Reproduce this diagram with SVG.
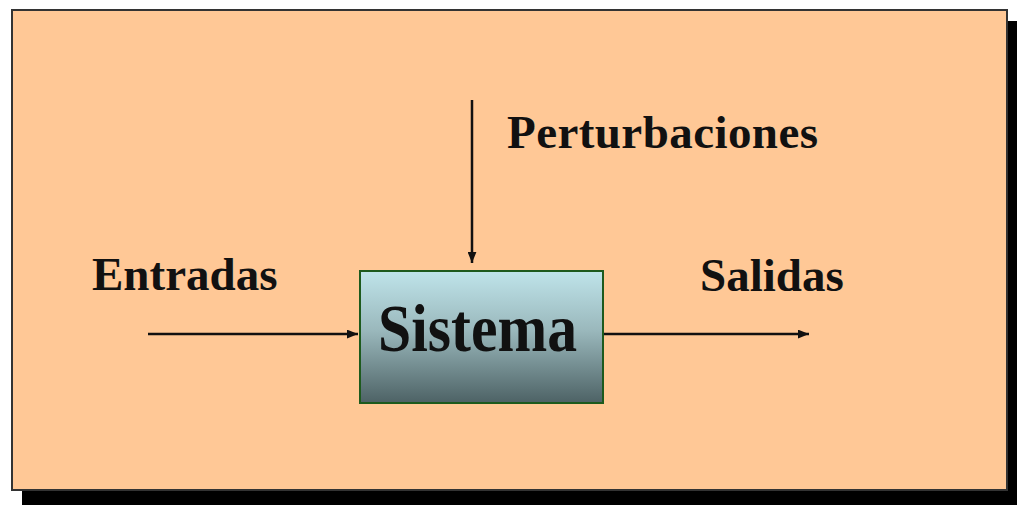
<svg xmlns="http://www.w3.org/2000/svg" width="1017" height="505" viewBox="0 0 1017 505">
<style>
.lbl{font-family:"Liberation Serif","Times New Roman",serif;font-weight:bold;font-size:47px;fill:#111}
.wire{stroke:#111;stroke-width:2.5;fill:none}
</style>
<defs>
<linearGradient id="g" x1="0" y1="0" x2="0" y2="1">
<stop offset="0" stop-color="#bfe4ea"/>
<stop offset="0.45" stop-color="#9ab8bc"/>
<stop offset="1" stop-color="#4d6265"/>
</linearGradient>
<marker id="ah" viewBox="0 0 10 8" refX="10" refY="4" markerWidth="11" markerHeight="9" markerUnits="userSpaceOnUse" orient="auto">
<path d="M0,0 L10,4 L0,8 Z" fill="#111"/>
</marker>
</defs>
<rect width="1017" height="505" fill="#ffffff"/>
<g id="panel">
<rect x="22" y="21" width="995" height="484" fill="#000"/>
<rect x="12" y="10" width="995" height="480" fill="#ffc896" stroke="#333" stroke-width="2"/>
</g>
<g id="connectors">
<line class="wire" x1="148" y1="334" x2="358" y2="334" marker-end="url(#ah)"/>
<line class="wire" x1="604" y1="334" x2="809" y2="334" marker-end="url(#ah)"/>
<line class="wire" x1="472" y1="100" x2="472" y2="263" marker-end="url(#ah)"/>
</g>
<g id="sistema">
<rect x="360" y="271" width="243" height="132" fill="url(#g)" stroke="#1d5a1d" stroke-width="2"/>
<text class="lbl" x="378" y="351" textLength="199" lengthAdjust="spacingAndGlyphs" style="font-size:68px">Sistema</text>
</g>
<g id="entradas"><text class="lbl" x="92" y="290">Entradas</text></g>
<g id="salidas"><text class="lbl" x="700" y="291">Salidas</text></g>
<g id="perturbaciones"><text class="lbl" x="507" y="148" textLength="311">Perturbaciones</text></g>
</svg>
